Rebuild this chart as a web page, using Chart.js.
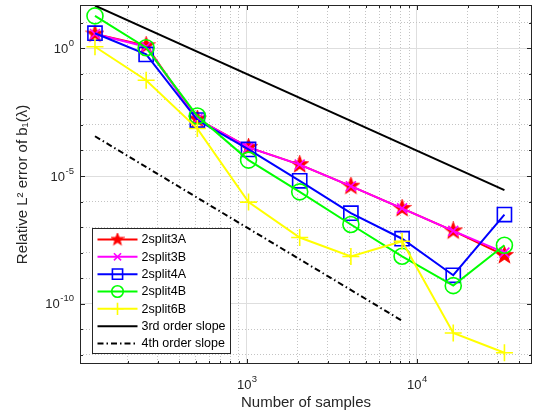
<!DOCTYPE html>
<html>
<head>
<meta charset="utf-8">
<script src="https://cdn.jsdelivr.net/npm/chart.js@4.4.0/dist/chart.umd.min.js"></script>
<style>
html, body { margin: 0; padding: 0; background: #fff; }
#wrap { width: 534px; height: 416px; }
</style>
</head>
<body>
<div id="wrap"><canvas id="errChart" width="534" height="416"></canvas></div>
<script>
// number of samples (powers of two)
const samples = [128, 256, 512, 1024, 2048, 4096, 8192, 16384, 32768];

// relative L2 error
const err3A = [3.63, 1.26, 1.7e-3, 1.32e-4, 2.8e-5, 4.0e-6, 5.4e-7, 7.1e-8, 7.8e-9];
const err3B = [3.63, 1.15, 1.7e-3, 1.32e-4, 2.8e-5, 4.0e-6, 5.4e-7, 7.1e-8, 1.0e-8];
const err4A = [3.89, 0.575, 1.55e-3, 1.1e-4, 6.5e-6, 3.5e-7, 3.5e-8, 1.3e-9, 3.1e-7];
const err4B = [18.6, 1.05, 2.24e-3, 4.2e-5, 2.4e-6, 1.26e-7, 7.2e-9, 5.1e-10, 1.95e-8];
const err6B = [1.15, 0.056, 7.2e-4, 9.5e-7, 3.9e-8, 7.1e-9, 2.8e-8, 7.1e-12, 1.2e-12];

// reference slopes
const slope3X = [128, 32768];
const slope3Y = [47, 2.8e-6];
const slope4X = [128, 8192];
const slope4Y = [3.6e-4, 2.15e-11];

// ticks (labels are 10^exp)
const xTickVals = [200, 300, 400, 500, 600, 700, 800, 900, 1000,
  2000, 3000, 4000, 5000, 6000, 7000, 8000, 9000, 10000, 20000, 30000, 40000];
const xLabelExps = [3, 4];
const yTickExps = [-12, -11, -10, -9, -8, -7, -6, -5, -4, -3, -2, -1, 0, 1];
const yLabelExps = [0, -5, -10];

const FONT = "'Liberation Sans', Helvetica, Arial, sans-serif";
const TXT = '#262626';

// pentagram marker (MATLAB 'p')
function makeStar(size) {
  const c = document.createElement('canvas');
  c.width = size; c.height = size;
  const g = c.getContext('2d');
  const cx = size / 2, cy = size / 2, ro = size / 2 - 1, ri = ro * 0.42;
  g.beginPath();
  for (let i = 0; i < 10; i++) {
    const r = i % 2 ? ri : ro;
    const a = -Math.PI / 2 + i * Math.PI / 5;
    g.lineTo(cx + r * Math.cos(a), cy + r * Math.sin(a));
  }
  g.closePath();
  g.fillStyle = '#ff0000'; g.fill();
  g.strokeStyle = '#ff0000'; g.lineWidth = 1.2; g.stroke();
  return c;
}
const starBig = makeStar(19);
const starSmall = makeStar(14);

function pts(xs, ys) { return xs.map((v, i) => ({ x: v, y: ys[i] })); }

function series(label, ys, color, style, radius, order) {
  return {
    label: label,
    data: pts(samples, ys),
    borderColor: color,
    backgroundColor: 'rgba(0,0,0,0)',
    borderWidth: 2,
    pointStyle: style,
    pointRadius: radius,
    pointBorderWidth: 1.6,
    pointBorderColor: color,
    pointBackgroundColor: 'rgba(0,0,0,0)',
    order: order
  };
}

const datasets = [
  series('2split3A', err3A, '#ff0000', starBig, 9, 7),
  series('2split3B', err3B, '#ff00ff', 'crossRot', 7, 6),
  series('2split4A', err4A, '#0000ff', 'rect', 10, 5),
  series('2split4B', err4B, '#00ff00', 'circle', 8, 4),
  series('2split6B', err6B, '#ffff00', 'cross', 8.5, 3),
  { label: '3rd order slope', data: pts(slope3X, slope3Y), borderColor: '#000', borderWidth: 2,
    pointRadius: 0, order: 2 },
  { label: '4th order slope', data: pts(slope4X, slope4Y), borderColor: '#000', borderWidth: 2,
    borderDash: [6, 3, 1.5, 3], pointRadius: 0, order: 1 }
];

// draws "10" with a raised exponent
function powLabel(ctx, exp, x, y, align) {
  const base = '10', sup = String(exp);
  ctx.font = '13px ' + FONT;
  const wb = ctx.measureText(base).width;
  ctx.font = '9.5px ' + FONT;
  const ws = ctx.measureText(sup).width;
  let x0 = align === 'right' ? x - wb - ws : x - (wb + ws) / 2;
  ctx.font = '13px ' + FONT;
  ctx.fillText(base, x0, y);
  ctx.font = '9.5px ' + FONT;
  ctx.fillText(sup, x0 + wb + 0.5, y - 7);
}

// box, inward ticks and tick labels like matlab
const frameTicks = {
  id: 'frameTicks',
  afterDatasetsDraw(chart) {
    const { ctx, chartArea: a, scales: { x, y } } = chart;
    ctx.save();
    ctx.strokeStyle = TXT;
    ctx.lineWidth = 1;
    ctx.beginPath();
    x.ticks.forEach(t => {
      const px = Math.round(x.getPixelForValue(t.value)) + 0.5;
      const len = t.major ? 5 : 3;
      ctx.moveTo(px, a.bottom); ctx.lineTo(px, a.bottom - len);
      ctx.moveTo(px, a.top); ctx.lineTo(px, a.top + len);
    });
    y.ticks.forEach(t => {
      const py = Math.round(y.getPixelForValue(t.value)) + 0.5;
      const len = t.major ? 5 : 3;
      ctx.moveTo(a.left, py); ctx.lineTo(a.left + len, py);
      ctx.moveTo(a.right, py); ctx.lineTo(a.right - len, py);
    });
    ctx.stroke();
    ctx.strokeRect(Math.round(a.left) + 0.5, Math.round(a.top) + 0.5,
      Math.round(a.right - a.left) - 1, Math.round(a.bottom - a.top) - 1);

    ctx.fillStyle = TXT;
    ctx.textBaseline = 'alphabetic';
    ctx.textAlign = 'left';
    xLabelExps.forEach(e => {
      powLabel(ctx, e, x.getPixelForValue(Math.pow(10, e)), a.bottom + 24.5, 'center');
    });
    yLabelExps.forEach(e => {
      powLabel(ctx, e, a.left - 6.5, y.getPixelForValue(Math.pow(10, e)) + 4.5, 'right');
    });
    ctx.restore();
  }
};

// legend box in the lower left of the axes
const boxLegend = {
  id: 'boxLegend',
  afterDraw(chart) {
    const { ctx, chartArea: a } = chart;
    const w = 138, rowH = 17.33;
    const h = 125;
    const left = Math.round(a.left + 12) + 0.5;
    const top = Math.round(a.bottom - 11 - h) + 0.5;
    ctx.save();
    ctx.fillStyle = '#fff';
    ctx.fillRect(left, top, w, h);
    ctx.strokeStyle = TXT;
    ctx.lineWidth = 1;
    ctx.strokeRect(left, top, w, h);
    ctx.font = '12.5px ' + FONT;
    ctx.textBaseline = 'middle';
    chart.data.datasets.forEach((ds, i) => {
      const cy = top + 11 + i * rowH;
      ctx.save();
      ctx.strokeStyle = ds.borderColor;
      ctx.lineWidth = ds.borderWidth;
      ctx.setLineDash(ds.borderDash || []);
      ctx.beginPath();
      ctx.moveTo(left + 5, cy);
      ctx.lineTo(left + 45, cy);
      ctx.stroke();
      ctx.restore();
      if (ds.pointRadius > 0) {
        if (ds.pointStyle === starBig) {
          ctx.drawImage(starSmall, left + 25 - 7, cy - 7);
        } else {
          ctx.save();
          ctx.strokeStyle = ds.borderColor;
          ctx.fillStyle = 'rgba(0,0,0,0)';
          ctx.lineWidth = 1.6;
          Chart.helpers.drawPoint(ctx, {
            pointStyle: ds.pointStyle, radius: ds.pointRadius * 0.72,
            borderWidth: 1.6, rotation: 0
          }, left + 25, cy);
          ctx.restore();
        }
      }
      ctx.fillStyle = '#000';
      ctx.fillText(ds.label, left + 49, cy + 0.5);
    });
    ctx.restore();
  }
};

const gridColor = c => (c.tick && c.tick.major) ? '#dedede' : '#c4c4c4';
const gridDash = c => (c.tick && c.tick.major) ? [] : [1, 2];

new Chart(document.getElementById('errChart'), {
  type: 'line',
  data: { datasets: datasets },
  plugins: [frameTicks, boxLegend],
  options: {
    responsive: false,
    animation: false,
    layout: { autoPadding: false, padding: { top: 5, right: 2, left: 0, bottom: 0 } },
    elements: { line: { tension: 0 } },
    plugins: { legend: { display: false }, tooltip: { enabled: false } },
    scales: {
      x: {
        type: 'logarithmic',
        min: 104.5,
        max: 47600,
        afterBuildTicks: s => {
          s.ticks = xTickVals.map(v => ({ value: v, major: Number.isInteger(Math.log10(v)) }));
        },
        afterFit: s => {
          s.height = 52;
          s.paddingLeft = 0;
          s.paddingRight = 0;
        },
        ticks: { display: false, autoSkip: false, maxRotation: 0 },
        grid: { drawTicks: false, color: gridColor, lineWidth: 1 },
        border: { display: false, dash: gridDash },
        title: {
          display: true,
          text: 'Number of samples',
          color: TXT,
          font: { family: FONT, size: 15 },
          padding: { top: 0, bottom: 4.5 }
        }
      },
      y: {
        type: 'logarithmic',
        min: 4.36e-13,
        max: 49.6,
        afterBuildTicks: s => {
          s.ticks = yTickExps.map(e => ({ value: Math.pow(10, e), major: e % 5 === 0 }));
        },
        afterFit: s => {
          s.width = 80;
          s.paddingTop = 0;
          s.paddingBottom = 0;
        },
        ticks: { display: false, autoSkip: false },
        grid: { drawTicks: false, color: gridColor, lineWidth: 1 },
        border: { display: false, dash: gridDash },
        title: {
          display: true,
          text: 'Relative L² error of b₁(λ)',
          color: TXT,
          font: { family: FONT, size: 15 },
          padding: { top: 14, bottom: 0 }
        }
      }
    }
  }
});
</script>
</body>
</html>
